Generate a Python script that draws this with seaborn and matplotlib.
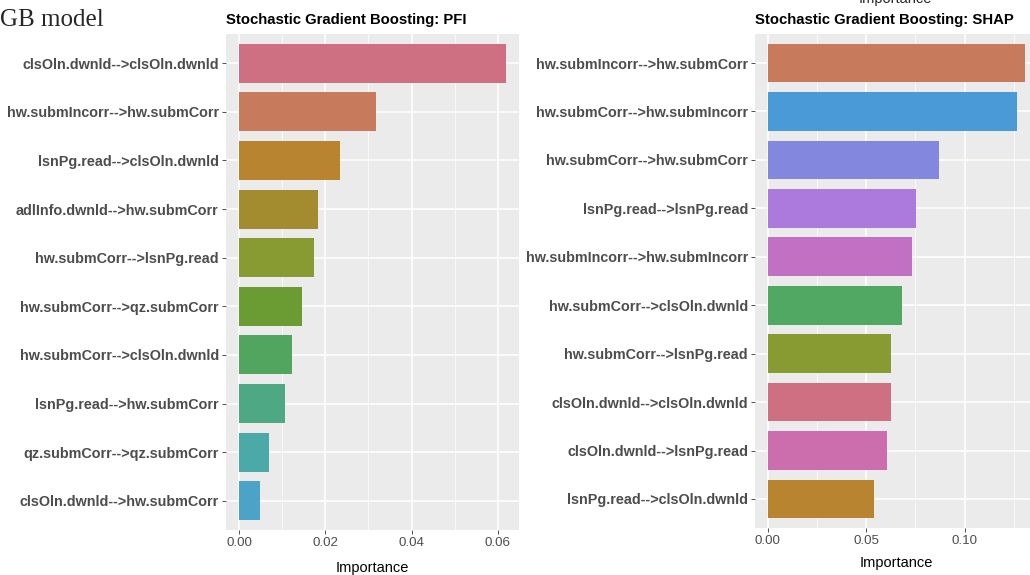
import seaborn as sns
import matplotlib.pyplot as plt
from matplotlib.ticker import MultipleLocator

# PFI panel (top to bottom)
pfi_features = [
    "clsOln.dwnld-->clsOln.dwnld",
    "hw.submIncorr-->hw.submCorr",
    "lsnPg.read-->clsOln.dwnld",
    "adlInfo.dwnld-->hw.submCorr",
    "hw.submCorr-->lsnPg.read",
    "hw.submCorr-->qz.submCorr",
    "hw.submCorr-->clsOln.dwnld",
    "lsnPg.read-->hw.submCorr",
    "qz.submCorr-->qz.submCorr",
    "clsOln.dwnld-->hw.submCorr",
]
pfi_values = [0.0618, 0.0318, 0.0233, 0.0182, 0.0173, 0.0146, 0.0122, 0.0107, 0.0069, 0.0048]
pfi_colors = ["#CF6F82", "#C77A5C", "#B8842F", "#A38B30", "#889A32",
              "#6A9C33", "#51A55F", "#4EA884", "#4BA9A8", "#4BA3C7"]

# SHAP panel (top to bottom)
shap_features = [
    "hw.submIncorr-->hw.submCorr",
    "hw.submCorr-->hw.submIncorr",
    "hw.submCorr-->hw.submCorr",
    "lsnPg.read-->lsnPg.read",
    "hw.submIncorr-->hw.submIncorr",
    "hw.submCorr-->clsOln.dwnld",
    "hw.submCorr-->lsnPg.read",
    "clsOln.dwnld-->clsOln.dwnld",
    "clsOln.dwnld-->lsnPg.read",
    "lsnPg.read-->clsOln.dwnld",
]
shap_values = [0.1307, 0.1265, 0.0867, 0.0753, 0.0731, 0.0682, 0.0628, 0.0624, 0.0605, 0.0541]
shap_colors = ["#C77A5C", "#4A9AD8", "#8388DE", "#AC79DC", "#C270C4",
               "#51A863", "#889A32", "#CF6F82", "#CC6DAE", "#B8842F"]

sns.set_theme(style="darkgrid", rc={
    "axes.facecolor": "#EBEBEB",
    "grid.color": "white",
    "axes.edgecolor": "#EBEBEB",
})
plt.rcParams['font.family'] = ['Liberation Sans', 'DejaVu Sans']

fig = plt.figure(figsize=(10.3, 5.75), dpi=100)
ax1 = fig.add_axes([225.7 / 1030, 1 - 530 / 575, 293.3 / 1030, 496 / 575])
ax2 = fig.add_axes([755 / 1030, 1 - 528 / 575, 283 / 1030, 494 / 575])


def panel(ax, feats, vals, cols, title, major, minor, fmt, lpad):
    sns.barplot(x=vals, y=feats, hue=feats, palette=cols, legend=False,
                width=0.8, ax=ax, saturation=1, linewidth=0)
    vmax = max(vals)
    ax.set_xlim(-0.05 * vmax, 1.05 * vmax)
    ax.set_ylim(len(feats) - 0.4, -0.6)
    ax.xaxis.set_major_locator(MultipleLocator(major))
    ax.xaxis.set_minor_locator(MultipleLocator(minor))
    ax.xaxis.set_major_formatter(fmt)
    ax.grid(True, which="major", color="white", linewidth=1.1)
    ax.grid(True, which="minor", axis="x", color="white", linewidth=0.5)
    ax.set_axisbelow(True)
    for s in ax.spines.values():
        s.set_visible(False)
    ax.tick_params(axis="both", which="major", direction="out", length=3,
                   width=0.6, color="#333333", pad=2, bottom=True, left=True)
    ax.tick_params(axis="x", which="minor", length=0)
    ax.tick_params(axis="x", labelsize=9.6, labelcolor="#4D4D4D")
    ax.tick_params(axis="y", labelsize=10.4, labelcolor="#4D4D4D")
    for t in ax.get_yticklabels():
        t.set_fontweight("bold")
    ax.set_ylabel("")
    ax.set_xlabel("Importance", fontsize=10.5, color="black", labelpad=lpad)
    ax.set_title(title, fontsize=10.7, fontweight="bold", loc="left",
                 pad=7, color="black")


panel(ax1, pfi_features, pfi_values, pfi_colors,
      "Stochastic Gradient Boosting: PFI", 0.02, 0.01, "{x:.2f}", 9)
panel(ax2, shap_features, shap_values, shap_colors,
      "Stochastic Gradient Boosting: SHAP", 0.05, 0.025, "{x:.2f}", 6.5)

fig.text(0, 1 - 20 / 575, "GB model", family="Liberation Serif",
         fontsize=18, va="center", ha="left")
# bottom of the label from the panel above, cut off by the crop
fig.text(895 / 1030, 1 - 3 / 575, "Importance", fontsize=10.5,
         va="baseline", ha="center")

fig.savefig("out.png", dpi=100)
